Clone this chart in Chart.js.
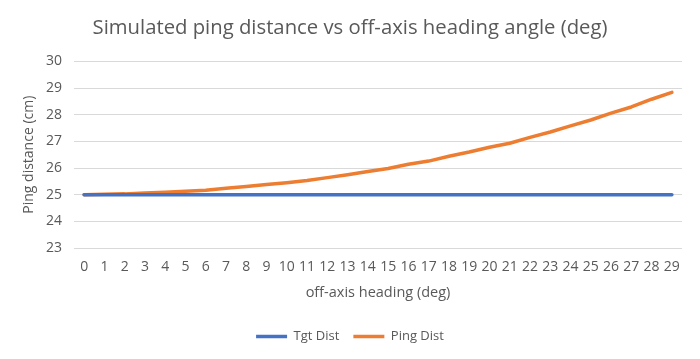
<!DOCTYPE html>
<html>
<head>
<meta charset="utf-8">
<script src="https://cdn.jsdelivr.net/npm/chart.js@4"></script>
<style>
  html, body { margin: 0; padding: 0; background: #ffffff; }
  #wrap { width: 700px; height: 359px; position: relative; }
</style>
</head>
<body>
<div id="wrap"><canvas id="c" width="700" height="359"></canvas></div>
<script>
const headings = [0,1,2,3,4,5,6,7,8,9,10,11,12,13,14,15,16,17,18,19,20,21,22,23,24,25,26,27,28,29];
const tgtDist = [25,25,25,25,25,25,25,25,25,25,25,25,25,25,25,25,25,25,25,25,25,25,25,25,25,25,25,25,25,25];
const pingDist = [25.00,25.02,25.03,25.06,25.09,25.13,25.17,25.24,25.31,25.38,25.45,25.53,25.64,25.75,25.87,25.98,26.14,26.26,26.44,26.60,26.78,26.93,27.15,27.35,27.58,27.80,28.06,28.29,28.58,28.84];
const yTicks = [23,24,25,26,27,28,29,30];

const FONT = "'Open Sans', sans-serif";
const TXT = '#595959';

new Chart(document.getElementById('c'), {
  type: 'line',
  data: {
    labels: headings.map(String),
    datasets: [
      { label: 'Tgt Dist', data: tgtDist, borderColor: '#4472C4', backgroundColor: '#4472C4',
        borderWidth: 3.5, pointRadius: 0, tension: 0, borderCapStyle: 'round', borderJoinStyle: 'round' },
      { label: 'Ping Dist', data: pingDist, borderColor: '#ED7D31', backgroundColor: '#ED7D31',
        borderWidth: 3.5, pointRadius: 0, tension: 0, borderCapStyle: 'round', borderJoinStyle: 'round' }
    ]
  },
  options: {
    responsive: false,
    animation: false,
    devicePixelRatio: 1,
    layout: { padding: { left: 0, right: 0, top: 0, bottom: 6 } },
    plugins: {
      title: {
        display: true,
        text: 'Simulated ping distance vs off-axis heading angle (deg)',
        color: TXT,
        font: { family: FONT, size: 20.3, weight: 'normal' },
        padding: { top: 16, bottom: 21 }
      },
      legend: {
        position: 'bottom',
        labels: {
          color: TXT,
          font: { family: FONT, size: 13 },
          usePointStyle: true,
          pointStyle: 'line',
          pointStyleWidth: 31,
          boxHeight: 13,
          padding: 14
        }
      },
      tooltip: { enabled: false }
    },
    scales: {
      x: {
        offset: true,
        grid: { display: false, drawTicks: false },
        border: { display: false },
        ticks: { color: TXT, font: { family: FONT, size: 14 }, padding: 11, maxRotation: 0, autoSkip: false },
        title: { display: true, text: 'off-axis heading (deg)', color: TXT, font: { family: FONT, size: 14.5 }, padding: { top: 14, bottom: 14 } },
        afterFit: (s) => { s.height = 68; }
      },
      y: {
        min: yTicks[0],
        max: yTicks[yTicks.length - 1],
        afterBuildTicks: (s) => { s.ticks = yTicks.map(v => ({ value: v })); },
        grid: { color: '#d9d9d9', lineWidth: 1, drawTicks: false },
        border: { display: false },
        ticks: { color: TXT, font: { family: FONT, size: 14 }, padding: 12 },
        title: { display: true, text: 'Ping distance (cm)', color: TXT, font: { family: FONT, size: 14 }, padding: { top: 21, bottom: 21 } },
        afterFit: (s) => { s.width = 74; }
      },
      yRight: {
        type: 'linear',
        position: 'right',
        display: true,
        grid: { display: false, drawTicks: false },
        border: { display: false },
        ticks: { display: false },
        afterFit: (s) => { s.width = 18; }
      }
    }
  }
});
</script>
</body>
</html>
